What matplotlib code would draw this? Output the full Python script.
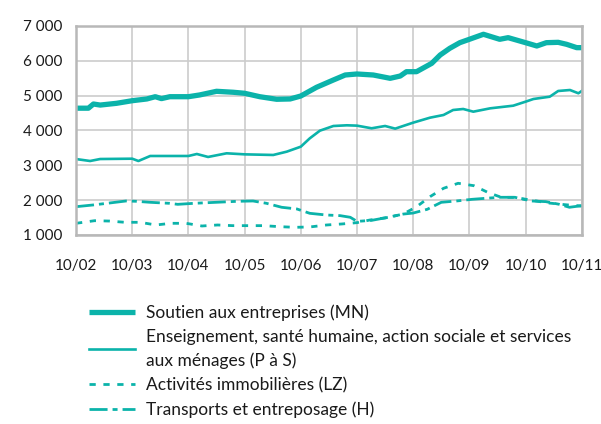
import matplotlib.pyplot as plt

plt.rcParams['font.family'] = ['Lato', 'DejaVu Sans']
plt.rcParams['lines.scale_dashes'] = False

teal = '#0BB3AA'

# tick labels (month/year)
years = [2002, 2003, 2004, 2005, 2006, 2007, 2008, 2009, 2010, 2011]
year_labels = ['10/02', '10/03', '10/04', '10/05', '10/06', '10/07', '10/08', '10/09', '10/10', '10/11']

# Soutien aux entreprises (MN)
mn_t = [2002.0, 2002.22, 2002.31, 2002.43, 2002.72, 2003.0, 2003.26, 2003.41, 2003.52, 2003.67,
        2004.0, 2004.2, 2004.5, 2004.8, 2005.0, 2005.27, 2005.57, 2005.81, 2006.0, 2006.28,
        2006.58, 2006.79, 2007.0, 2007.29, 2007.59, 2007.77, 2007.88, 2008.06, 2008.33, 2008.48,
        2008.65, 2008.83, 2009.0, 2009.25, 2009.54, 2009.69, 2010.0, 2010.2, 2010.37, 2010.58,
        2010.73, 2010.91, 2011.0]
mn_v = [4640, 4640, 4760, 4730, 4780, 4855, 4905, 4970, 4915, 4970,
        4970, 5020, 5125, 5097, 5068, 4970, 4896, 4905, 4990, 5240,
        5450, 5593, 5622, 5593, 5498, 5564, 5688, 5688, 5928, 6167,
        6358, 6521, 6618, 6762, 6618, 6665, 6521, 6426, 6521, 6531,
        6474, 6378, 6378]

# Enseignement, santé humaine, action sociale et services aux ménages (P à S)
ps_t = [2002.0, 2002.25, 2002.43, 2003.0, 2003.11, 2003.32, 2004.0, 2004.15, 2004.35, 2004.68,
        2005.0, 2005.51, 2005.75, 2006.0, 2006.16, 2006.34, 2006.58, 2006.82, 2007.0, 2007.26,
        2007.5, 2007.68, 2008.0, 2008.3, 2008.54, 2008.71, 2008.89, 2009.07, 2009.37, 2009.78,
        2010.0, 2010.14, 2010.43, 2010.58, 2010.79, 2010.94, 2011.0]
ps_v = [3180, 3124, 3181, 3190, 3124, 3268, 3268, 3325, 3240, 3345,
        3315, 3297, 3392, 3535, 3775, 3995, 4129, 4149, 4139, 4063,
        4129, 4053, 4225, 4368, 4445, 4588, 4617, 4540, 4636, 4712,
        4827, 4904, 4970, 5134, 5162, 5068, 5134]

# Activités immobilières (LZ)
lz_t = [2002.0, 2002.33, 2002.59, 2002.87, 2003.14, 2003.42, 2003.69, 2003.96, 2004.24, 2004.52,
        2004.79, 2005.07, 2005.33, 2005.62, 2005.9, 2006.16, 2006.46, 2006.73, 2007.0, 2007.23,
        2007.53, 2007.82, 2008.06, 2008.3, 2008.54, 2008.8, 2009.08, 2009.34, 2009.57, 2009.8,
        2010.1, 2010.4, 2010.7, 2011.0]
lz_v = [1335, 1410, 1400, 1364, 1364, 1287, 1335, 1335, 1258, 1287,
        1268, 1268, 1268, 1239, 1220, 1230, 1287, 1316, 1354, 1430,
        1497, 1600, 1810, 2100, 2340, 2484, 2415, 2214, 2080, 2080,
        2000, 1920, 1870, 1830]

# Transports et entreposage (H)
h_t = [2002.0, 2002.3, 2002.55, 2002.89, 2003.07, 2003.32, 2003.66, 2003.81, 2004.1, 2004.49,
       2004.88, 2005.15, 2005.39, 2005.66, 2005.93, 2006.16, 2006.45, 2006.7, 2006.88, 2007.0,
       2007.26, 2007.53, 2007.82, 2008.0, 2008.25, 2008.5, 2008.77, 2009.05, 2009.29, 2009.54,
       2009.81, 2010.1, 2010.36, 2010.6, 2010.78, 2011.0]
h_v = [1812, 1861, 1909, 1976, 1967, 1938, 1909, 1880, 1909, 1938,
       1967, 1976, 1909, 1795, 1747, 1622, 1574, 1555, 1508, 1390,
       1420, 1500, 1600, 1630, 1737, 1938, 1976, 2024, 2053, 2082,
       2082, 1976, 1957, 1880, 1795, 1842]

fig = plt.figure(figsize=(6.01, 4.24), dpi=100)
ax = fig.add_axes([0.1265, 0.4458, 0.8415, 0.4929])

ax.plot(mn_t, mn_v, color=teal, lw=3.8, solid_capstyle='butt',
        label='Soutien aux entreprises (MN)')
ax.plot(ps_t, ps_v, color=teal, lw=1.9,
        label='Enseignement, santé humaine, action sociale et services\naux ménages (P à S)')
ax.plot(lz_t, lz_v, color=teal, lw=2.0, linestyle=(0, (4.5, 5.5)),
        label='Activités immobilières (LZ)')
ax.plot(h_t, h_v, color=teal, lw=2.0, linestyle=(0, (13, 3.6, 3.6, 3.6)),
        label='Transports et entreposage (H)')

ax.set_xlim(2002, 2011)
ax.set_ylim(1000, 7000)
ax.set_xticks(years)
ax.set_xticklabels(year_labels)
ax.set_yticks(range(1000, 7001, 1000))
ax.set_yticklabels(['{:,}'.format(v).replace(',', ' ') for v in range(1000, 7001, 1000)])
ax.tick_params(length=0, labelsize=11, colors='#1a1a1a')
ax.tick_params(axis='x', pad=17)
ax.tick_params(axis='y', pad=10)
ax.grid(True, color='#CCCCCC', lw=1.2)
ax.set_axisbelow(True)
for s in ax.spines.values():
    s.set_color('#B8B8B8')
    s.set_linewidth(1.8)

leg = fig.legend(loc='upper left', bbox_to_anchor=(0.148, 0.282), frameon=False,
                 fontsize=12.5, handlelength=2.64, handletextpad=0.63, labelspacing=0.46,
                 borderpad=0, borderaxespad=0)
for t in leg.get_texts():
    t.set_color('#1a1a1a')
    t.set_linespacing(1.55)

fig.savefig('out.png', dpi=100)
